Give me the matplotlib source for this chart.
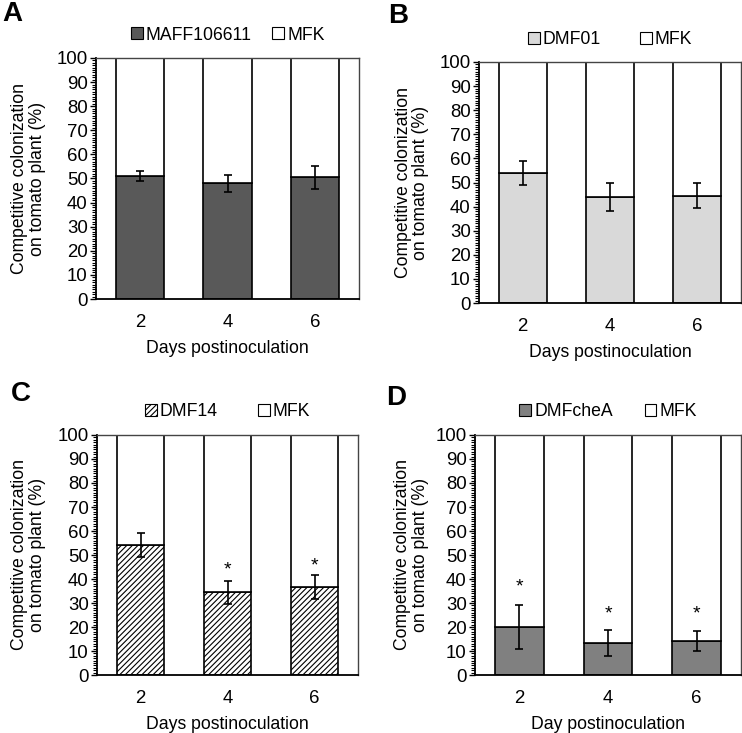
import matplotlib
matplotlib.use("Agg")
import matplotlib.pyplot as plt
from matplotlib.ticker import MultipleLocator
from matplotlib.patches import Patch

plt.rcParams['font.family'] = ['Liberation Sans', 'DejaVu Sans']
plt.rcParams['hatch.linewidth'] = 0.8

days = ["2", "4", "6"]

strains = ["MAFF106611", "DMF01", "DMF14", "DMFcheA"]
reference = "MFK"

values_A = [51.0, 48.0, 50.5]
errors_A = [2.0, 3.5, 4.7]
values_B = [54.0, 44.0, 44.5]
errors_B = [5.0, 5.7, 5.2]
values_C = [54.0, 34.5, 36.5]
errors_C = [5.0, 4.8, 5.0]
values_D = [20.0, 13.3, 14.3]
errors_D = [9.2, 5.4, 4.2]

stars_C = [None, 43.8, 45.5]
stars_D = [36.8, 25.4, 25.4]

xlabels = ["Days postinoculation", "Days postinoculation",
           "Days postinoculation", "Day postinoculation"]
panel_letters = ["A", "B", "C", "D"]

W, H = 742, 733
fig = plt.figure(figsize=(W / 100, H / 100), dpi=100)

FS = 12.7
TFS = 13.4

# axes boxes in pixels: left, top, right, bottom
boxes = [(96, 58, 359, 299), (479, 62, 741, 303),
         (97, 435, 358, 675), (475, 435, 741, 675)]
legend_y = [35, 40, 412, 412]
col_space = [1.2, 2.2, 2.3, 1.8]
ylab_x = [-0.19, -0.19, -0.195, -0.173]
letter_pos = [(12, 14), (398, 16), (21, 394), (396, 398)]

styles = [dict(color="#595959", hatch=None),
          dict(color="#d9d9d9", hatch=None),
          dict(color="white", hatch="//////"),
          dict(color="#808080", hatch=None)]

all_vals = [values_A, values_B, values_C, values_D]
all_errs = [errors_A, errors_B, errors_C, errors_D]
all_stars = [[None] * 3, [None] * 3, stars_C, stars_D]

for i in range(4):
    l, t, r, b = boxes[i]
    ax = fig.add_axes([l / W, (H - b) / H, (r - l) / W, (b - t) / H])
    x = list(range(len(days)))
    vals = all_vals[i]
    errs = all_errs[i]
    st = styles[i]
    ax.bar(x, vals, width=0.55, color=st["color"], edgecolor="black",
           linewidth=1.2, hatch=st["hatch"], zorder=2)
    ax.bar(x, [100 - v for v in vals], bottom=vals, width=0.55,
           color="white", edgecolor="black", linewidth=1.2, zorder=2)
    ax.errorbar(x, vals, yerr=errs, fmt="none", ecolor="black",
                elinewidth=1.2, capsize=3, capthick=1.2, zorder=3)
    for xi, s in zip(x, all_stars[i]):
        if s is not None:
            ax.text(xi, s, "*", ha="center", va="center", fontsize=14)
    ax.set_xlim(-0.5, 2.5)
    ax.set_ylim(0, 100)
    ax.set_xticks(x)
    ax.set_xticklabels(days)
    ax.yaxis.set_major_locator(MultipleLocator(10))
    ax.yaxis.set_minor_locator(MultipleLocator(1))
    ax.tick_params(axis="x", length=0, pad=11, labelsize=TFS)
    ax.tick_params(axis="y", which="major", length=4, width=1, pad=2, labelsize=TFS)
    ax.tick_params(axis="y", which="minor", length=3, width=0.8)
    for sp in ["left", "bottom"]:
        ax.spines[sp].set_linewidth(1.3)
        ax.spines[sp].set_color("black")
    for sp in ["top", "right"]:
        ax.spines[sp].set_linewidth(1.0)
        ax.spines[sp].set_color("#444444")
    ax.set_ylabel("Competitive colonization\non tomato plant (%)", fontsize=FS,
                  linespacing=1.05)
    ax.yaxis.set_label_coords(ylab_x[i], 0.5)
    ax.set_xlabel(xlabels[i], fontsize=FS, labelpad=6)

    handles = [Patch(facecolor=st["color"], edgecolor="black", hatch=st["hatch"],
                     linewidth=0.8),
               Patch(facecolor="white", edgecolor="black", linewidth=0.8)]
    cx = (l + r) / 2
    fig.legend(handles, [strains[i], reference], loc="center",
               bbox_to_anchor=(cx / W, (H - legend_y[i]) / H), ncol=2,
               frameon=False, fontsize=FS, handlelength=0.68, handleheight=0.68,
               handletextpad=0.15, columnspacing=col_space[i], borderaxespad=0)

    lx, ly = letter_pos[i]
    fig.text(lx / W, (H - ly) / H, panel_letters[i], fontsize=20,
             fontweight="bold", ha="center", va="center")

fig.savefig("out.png", dpi=100)
